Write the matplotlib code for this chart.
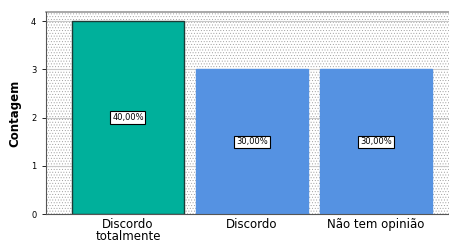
import matplotlib

matplotlib.use("Agg")
import matplotlib.pyplot as plt

categories = ["Discordo\ntotalmente", "Discordo", "Não tem opinião"]
counts = [4, 3, 3]
percent_labels = ["40,00%", "30,00%", "30,00%"]
colors = ["#00B09B", "#5592E2", "#5592E2"]
edge_colors = ["#1E3B36", "#5592E2", "#5592E2"]

plt.rcParams["hatch.linewidth"] = 0.35

fig = plt.figure(figsize=(4.49, 2.43), dpi=100)
ax = fig.add_axes([46 / 449, 1 - 214 / 243, 403 / 449, 202 / 243])

# dotted plot background like SPSS
ax.set_facecolor("white")
bg = plt.Rectangle((0, 0), 1, 1, transform=ax.transAxes, facecolor="white",
                   edgecolor="#9A9A9A", hatch="......", lw=0, zorder=0)
ax.add_patch(bg)

for y in range(1, 5):
    ax.axhline(y, color="#C8C8C8", lw=0.8, zorder=0.5)

x = list(range(len(categories)))
ax.bar(x, counts, width=0.9, color=colors, edgecolor=edge_colors, lw=1, zorder=2)
for xi, c, lab in zip(x, counts, percent_labels):
    ax.text(xi, c / 2, lab, ha="center", va="center", fontsize=6, zorder=3,
            bbox=dict(boxstyle="square,pad=0.2", fc="white", ec="black", lw=0.8))

ax.set_xlim(-0.661, 2.589)
ax.set_ylim(0, 4.19)
ax.set_yticks([0, 1, 2, 3, 4])
ax.tick_params(axis="y", labelsize=6, length=3, width=0.6, pad=4)
ax.set_xticks(x)
ax.set_xticklabels(categories, fontsize=8.5, linespacing=0.85)
ax.tick_params(axis="x", length=0, pad=3)
ax.set_ylabel("Contagem", fontsize=8.5, fontweight="bold", labelpad=7)

for s in ["top", "right"]:
    ax.spines[s].set_visible(False)
ax.spines["left"].set_color("#555555")
ax.spines["bottom"].set_color("#555555")
ax.spines["left"].set_linewidth(0.8)
ax.spines["bottom"].set_linewidth(0.8)
ax.axhline(4.19, color="#999999", lw=1.2, zorder=1, clip_on=False)

fig.savefig("out.png", dpi=100)
